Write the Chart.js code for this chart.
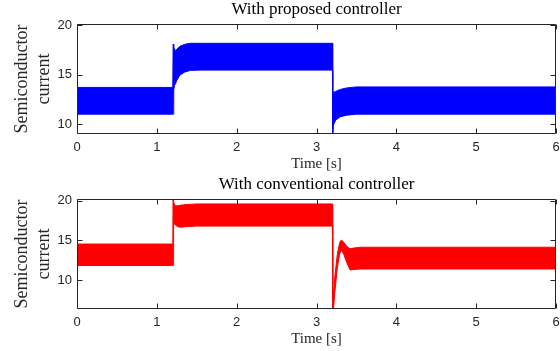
<!DOCTYPE html>
<html>
<head>
<meta charset="utf-8">
<script src="https://cdn.jsdelivr.net/npm/chart.js@4.4.1/dist/chart.umd.min.js"></script>
<style>
  html, body { margin: 0; padding: 0; background: #fff; }
  .panel { position: absolute; left: 0; width: 560px; height: 175px; }
  #panel-top { top: 0; }
  #panel-bottom { top: 175px; }
</style>
</head>
<body>
<div class="panel" id="panel-top"><canvas id="proposedChart" width="560" height="175"></canvas></div>
<div class="panel" id="panel-bottom"><canvas id="conventionalChart" width="560" height="175"></canvas></div>
<script>
// tick labels
const timeTicks = [0, 1, 2, 3, 4, 5, 6];
const currentTicks = [10, 15, 20];

// ripple envelope (max / min of the switching current), proposed controller
const proposedTime  = [0, 1.2, 1.204, 1.212, 1.222, 1.235, 1.25, 1.29, 1.35, 1.42, 1.55, 3.2, 3.203, 3.212, 3.24, 3.3, 3.38, 3.5, 6];
const proposedUpper = [13.7, 13.7, 18.05, 17.85, 17.5, 17.45, 17.55, 17.85, 18.05, 18.15, 18.15, 18.15, 13.4, 13.2, 13.3, 13.5, 13.65, 13.75, 13.75];
const proposedLower = [11.0, 11.0, 11.0, 13.5, 13.9, 14.1, 14.4, 14.95, 15.25, 15.42, 15.45, 15.45, 9.0, 9.9, 10.4, 10.75, 10.9, 11.0, 11.0];

// same, conventional controller
const conventionalTime  = [0, 1.2, 1.203, 1.21, 1.23, 1.26, 1.3, 1.36, 1.5, 3.2, 3.203, 3.212, 3.23, 3.26, 3.29, 3.31, 3.34, 3.38, 3.42, 3.47, 3.55, 6];
const conventionalUpper = [14.55, 14.55, 20.2, 19.8, 19.35, 19.35, 19.42, 19.5, 19.58, 19.58, 9.5, 8.0, 10.5, 13.2, 14.7, 15.05, 14.8, 14.25, 13.95, 14.05, 14.15, 14.15];
const conventionalLower = [11.85, 11.85, 11.85, 17.2, 16.95, 16.75, 16.65, 16.72, 16.8, 16.8, 6.4, 6.4, 8.5, 11.5, 13.3, 13.8, 13.3, 12.2, 11.3, 11.35, 11.42, 11.42];

const serif = "'Liberation Serif', 'Times New Roman', serif";
const sans = "'Liberation Sans', Arial, sans-serif";
const axisColor = '#262626';

Chart.defaults.font.family = sans;

// MATLAB-like box with inward ticks on all four sides, plus the title over the plot area
const framePlugin = {
  id: 'frame',
  afterDatasetsDraw(chart, args, opts) {
    const { ctx, chartArea: a, scales } = chart;
    const left = Math.round(a.left) + 0.5;
    const right = Math.round(a.right) - 0.5;
    const top = Math.round(a.top) + 0.5;
    const bottom = Math.round(a.bottom) - 0.5;
    ctx.save();
    ctx.strokeStyle = axisColor;
    ctx.lineWidth = 1;
    ctx.beginPath();
    ctx.rect(left, top, right - left, bottom - top);
    scales.x.ticks.forEach(t => {
      const x = Math.round(scales.x.getPixelForValue(t.value)) + 0.5;
      ctx.moveTo(x, bottom); ctx.lineTo(x, bottom - 5);
      ctx.moveTo(x, top); ctx.lineTo(x, top + 5);
    });
    scales.y.ticks.forEach(t => {
      const y = Math.round(scales.y.getPixelForValue(t.value)) + 0.5;
      ctx.moveTo(left, y); ctx.lineTo(left + 5, y);
      ctx.moveTo(right, y); ctx.lineTo(right - 5, y);
    });
    ctx.stroke();

    ctx.fillStyle = '#000';
    ctx.font = `17px ${serif}`;
    ctx.textAlign = 'center';
    ctx.textBaseline = 'middle';
    ctx.fillText(opts.text, (a.left + a.right) / 2, 10);
    ctx.restore();
  }
};

function makePanel(canvasId, title, time, upper, lower, color, yMin, yMax) {
  const ctx = document.getElementById(canvasId).getContext('2d');
  return new Chart(ctx, {
    type: 'line',
    data: {
      datasets: [
        {
          data: time.map((t, i) => ({ x: t, y: upper[i] })),
          borderColor: color,
          backgroundColor: color,
          borderWidth: 1,
          pointRadius: 0,
          tension: 0,
          fill: '+1'
        },
        {
          data: time.map((t, i) => ({ x: t, y: lower[i] })),
          borderColor: color,
          borderWidth: 1,
          pointRadius: 0,
          tension: 0,
          fill: false
        }
      ]
    },
    options: {
      responsive: false,
      animation: false,
      layout: { padding: { top: 24, right: 4, left: 0, bottom: 0 } },
      plugins: {
        legend: { display: false },
        tooltip: { enabled: false },
        frame: { text: title }
      },
      scales: {
        x: {
          type: 'linear',
          min: 0,
          max: 6,
          afterBuildTicks: s => { s.ticks = timeTicks.map(v => ({ value: v })); },
          afterFit: s => { s.height = 41; s.paddingLeft = 0; s.paddingRight = 0; },
          grid: { display: false, drawTicks: false },
          border: { display: false },
          ticks: { color: axisColor, font: { size: 13 }, padding: 6, maxRotation: 0 },
          title: {
            display: true,
            text: 'Time [s]',
            color: axisColor,
            font: { family: serif, size: 15 },
            padding: { top: 0, bottom: 2 }
          }
        },
        y: {
          min: yMin,
          max: yMax,
          afterBuildTicks: s => { s.ticks = currentTicks.map(v => ({ value: v })); },
          afterFit: s => { s.width = 77; },
          grid: { display: false, drawTicks: false },
          border: { display: false },
          ticks: { color: axisColor, font: { size: 13 }, padding: 5 },
          title: {
            display: true,
            text: ['Semiconductor', 'current'],
            color: axisColor,
            font: { family: serif, size: 18, lineHeight: 1.22 },
            padding: { top: 11, bottom: 0 }
          }
        }
      }
    },
    plugins: [framePlugin]
  });
}

makePanel('proposedChart', 'With proposed controller',
  proposedTime, proposedUpper, proposedLower, '#0000ff', 9, 20.1);
makePanel('conventionalChart', 'With conventional controller',
  conventionalTime, conventionalUpper, conventionalLower, '#ff0000', 6.4, 20.2);
</script>
</body>
</html>
